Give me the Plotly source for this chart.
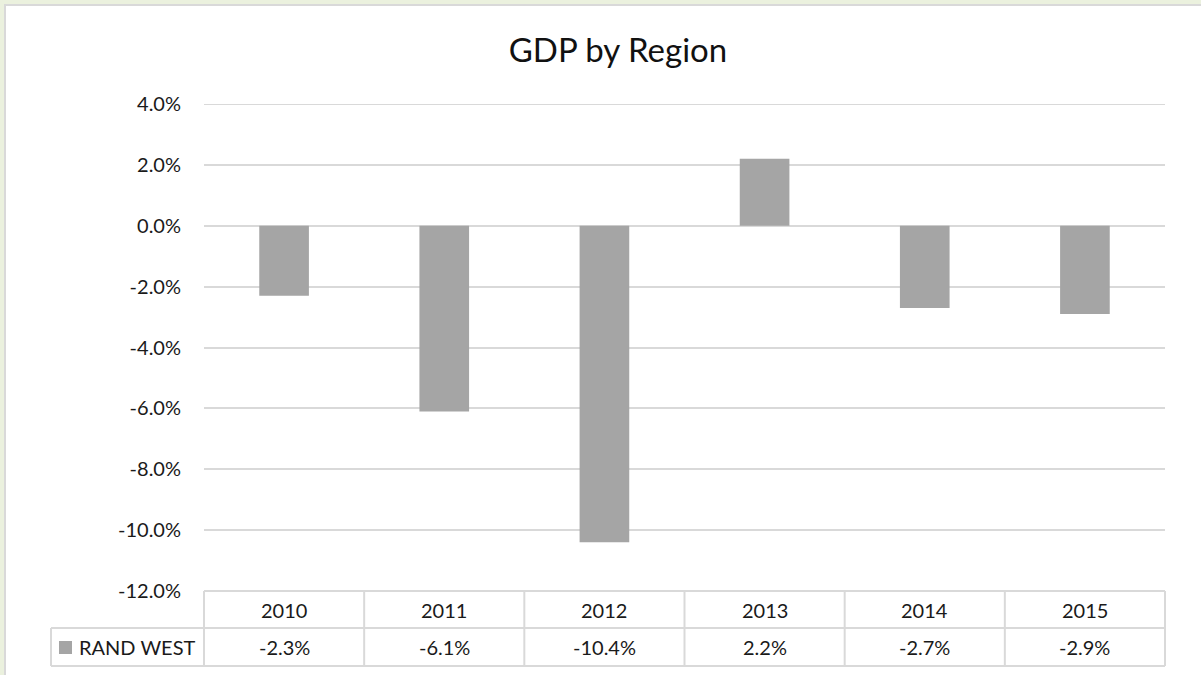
import plotly.graph_objects as go

years = ["2010", "2011", "2012", "2013", "2014", "2015"]
rand_west = [-2.3, -6.1, -10.4, 2.2, -2.7, -2.9]
series_name = "RAND WEST"
y_ticks = [4, 2, 0, -2, -4, -6, -8, -10, -12]
y_min, y_max = -12, 4

W, H = 1201, 675
L, R, T, B = 204, 1165, 104, 591
pw, ph = R - L, B - T

def px(x):
    return (x - L) / pw

def py(y):
    return (B - y) / ph

FONT = "Lato, Carlito, Calibri, sans-serif"
TXT = "#1a1a1a"
GRID = "#d9d9d9"
BAR = "#a5a5a5"

fig = go.Figure()
fig.add_trace(go.Bar(
    x=years, y=rand_west, name=series_name,
    marker=dict(color=BAR, line=dict(width=0)),
    width=0.31, showlegend=False, hoverinfo="x+y",
))

shapes = []
# outer frame (green strip + gray border)
shapes.append(dict(type="rect", xref="paper", yref="paper", x0=px(-5), x1=px(W + 5), y0=py(-5), y1=py(H + 5),
                   fillcolor="#ebf1de", line=dict(width=0), layer="below"))
shapes.append(dict(type="rect", xref="paper", yref="paper", x0=px(5), x1=px(W + 20), y0=py(5), y1=py(H + 20),
                   fillcolor="white", line=dict(color=GRID, width=2), layer="below"))
# top gridline (at axis max)
shapes.append(dict(type="line", xref="paper", yref="y", x0=0, x1=1, y0=y_max, y1=y_max,
                   line=dict(color=GRID, width=2), layer="below"))

# data table lines
n = len(years)
row1_top, row1_bot, row2_bot = 591, 628, 666
leg_left = 51
shapes.append(dict(type="line", xref="paper", yref="paper", x0=0, x1=1, y0=py(row1_top), y1=py(row1_top),
                   line=dict(color=GRID, width=2)))
for yy in (row1_bot, row2_bot):
    shapes.append(dict(type="line", xref="paper", yref="paper", x0=px(leg_left), x1=1, y0=py(yy), y1=py(yy),
                       line=dict(color=GRID, width=2)))
for i in range(n + 1):
    shapes.append(dict(type="line", xref="paper", yref="paper", x0=i / n, x1=i / n, y0=py(row1_top), y1=py(row2_bot),
                       line=dict(color=GRID, width=2)))
shapes.append(dict(type="line", xref="paper", yref="paper", x0=px(leg_left), x1=px(leg_left), y0=py(row1_bot), y1=py(row2_bot),
                   line=dict(color=GRID, width=2)))
# legend key
shapes.append(dict(type="rect", xref="paper", yref="paper", x0=px(59), x1=px(72), y0=py(654), y1=py(641),
                   fillcolor=BAR, line=dict(width=0)))

annotations = []
for i, (yr, v) in enumerate(zip(years, rand_west)):
    cx = (i + 0.5) / n
    annotations.append(dict(xref="paper", yref="paper", x=cx, y=py((row1_top + row1_bot) / 2), text=yr,
                            showarrow=False, font=dict(family=FONT, size=20, color=TXT), xanchor="center", yanchor="middle"))
    annotations.append(dict(xref="paper", yref="paper", x=cx, y=py((row1_bot + row2_bot) / 2), text=f"{v:.1f}%",
                            showarrow=False, font=dict(family=FONT, size=20, color=TXT), xanchor="center", yanchor="middle"))
annotations.append(dict(xref="paper", yref="paper", x=px(77), y=py((row1_bot + row2_bot) / 2), text=series_name,
                        showarrow=False, font=dict(family=FONT, size=20, color=TXT), xanchor="left", yanchor="middle"))

fig.update_layout(
    width=W, height=H,
    margin=dict(l=L, r=W - R, t=T, b=H - B, pad=0),
    paper_bgcolor="white", plot_bgcolor="white",
    title=dict(text="GDP by Region", x=(618 - 0) / W, xanchor="center", y=1 - 50 / H, yanchor="middle",
               font=dict(family=FONT, size=33, color="#111111")),
    xaxis=dict(showticklabels=False, showgrid=False, zeroline=False, showline=False, ticks=""),
    yaxis=dict(range=[y_min, y_max], tickvals=y_ticks, ticktext=[f"{t:.1f}%" for t in y_ticks],
               showgrid=True, gridcolor=GRID, gridwidth=2, zeroline=True, zerolinecolor=GRID, zerolinewidth=2,
               showline=False, ticks="", ticklabelstandoff=22,
               tickfont=dict(family=FONT, size=20, color=TXT)),
    shapes=shapes, annotations=annotations, bargap=0.69,
)

fig.write_html("out.html")
